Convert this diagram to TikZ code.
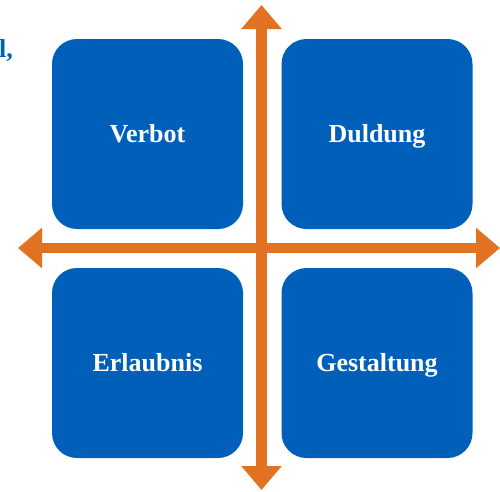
\documentclass[tikz,border=0pt]{standalone}
\usepackage{fontspec}
\setmainfont{Liberation Serif}
\usetikzlibrary{arrows.meta}
\definecolor{fieldblue}{RGB}{0,96,185}
\definecolor{axisorange}{RGB}{224,114,34}

\begin{document}
\begin{tikzpicture}[x=1pt,y=-1pt,
  field/.style={fill=fieldblue, text=white, rounded corners=25pt, minimum width=191pt, minimum height=190pt, inner sep=0pt, text height=17pt, text depth=0pt, font=\fontsize{26}{30}\selectfont\bfseries},
  axis/.style={draw=axisorange, line width=10.5pt, -{Triangle[length=24pt,width=39pt]}}]
  \useasboundingbox (0,0) rectangle (500,491);

  % Cut-off text at the left edge
  \node[text=fieldblue, font=\fontsize{26}{30}\selectfont\bfseries, anchor=base east, inner sep=0pt] (cut) at (13,57) {l,};

  % Four fields
  \node[field] (verbot) at (147.5,134) {Verbot};
  \node[field] (duldung) at (377,134) {Duldung};
  \node[field] (erlaubnis) at (147.5,363) {Erlaubnis};
  \node[field] (gestaltung) at (377,363) {Gestaltung};

  % Axis ends
  \coordinate (top) at (261.5,5);
  \coordinate (bottom) at (261.5,490);
  \coordinate (left) at (18,248);
  \coordinate (right) at (500,248);
  \coordinate (mid) at (261.5,248);

  % Axes
  \draw[axis] (mid) -- (top);
  \draw[axis] (mid) -- (bottom);
  \draw[axis] (mid) -- (left);
  \draw[axis] (mid) -- (right);
\end{tikzpicture}
\end{document}
